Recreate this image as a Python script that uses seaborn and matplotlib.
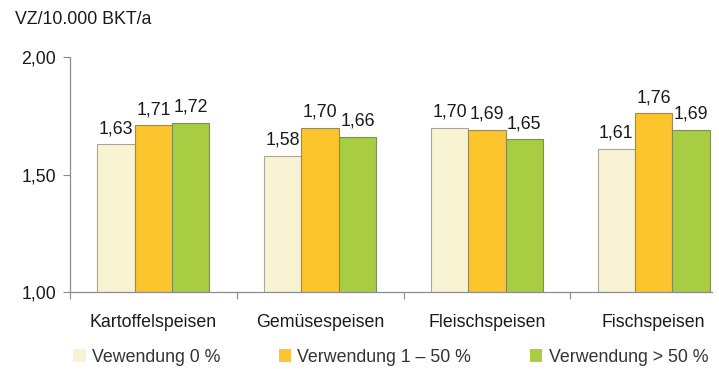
import matplotlib
matplotlib.use("Agg")
import matplotlib.pyplot as plt
import seaborn as sns
import pandas as pd
from matplotlib.patches import Patch
from matplotlib.ticker import FixedLocator

categories = ["Kartoffelspeisen", "Gemüsespeisen", "Fleischspeisen", "Fischspeisen"]
series = ["Vewendung 0 %", "Verwendung 1 – 50 %", "Verwendung > 50 %"]
values_0 = [1.63, 1.58, 1.70, 1.61]
values_1_50 = [1.71, 1.70, 1.69, 1.76]
values_gt50 = [1.72, 1.66, 1.65, 1.69]
colors = ["#F8F4D3", "#FCC52D", "#A8CC42"]
edge_colors = ["#A9A699", "#9A8A55", "#7E8E55"]
y_ticks = [1.00, 1.50, 2.00]
y_label = "VZ/10.000 BKT/a"

rows = []
for name, vals in zip(series, [values_0, values_1_50, values_gt50]):
    for cat, v in zip(categories, vals):
        rows.append({"Kategorie": cat, "Gruppe": name, "Wert": v})
df = pd.DataFrame(rows)

sns.set_theme(style="white")
plt.rcParams["font.family"] = ["Liberation Sans", "DejaVu Sans"]
text_color = "#1a1a1a"
fs = 12.8

fig = plt.figure(figsize=(7.19, 3.69), dpi=100)
ax = fig.add_axes([70 / 719, 1 - 292 / 369, (712 - 70) / 719, (292 - 57) / 369])

sns.barplot(data=df, x="Kategorie", y="Wert", hue="Gruppe", order=categories,
            hue_order=series, palette=colors, saturation=1, width=0.672,
            linewidth=0.8, ax=ax, legend=False)

for cont, ec in zip(ax.containers, edge_colors):
    for bar in cont:
        bar.set_edgecolor(ec)
    ax.bar_label(cont, fmt=lambda v: f"{v:.2f}".replace(".", ","), padding=5,
                 fontsize=fs, color=text_color)

ax.set_ylim(1.0, 2.0)
ax.set_xlim(-0.5, 3.35)
ax.set_yticks(y_ticks)
ax.set_yticklabels([f"{t:.2f}".replace(".", ",") for t in y_ticks])
ax.set_xlabel("")
ax.set_ylabel("")

for s in ["top", "right"]:
    ax.spines[s].set_visible(False)
for s in ["left", "bottom"]:
    ax.spines[s].set_color("#8c8c8c")
    ax.spines[s].set_linewidth(0.9)

ax.tick_params(axis="y", which="major", length=5, width=0.8, color="#8c8c8c",
               direction="out", pad=5, labelsize=fs, labelcolor=text_color, left=True)
ax.tick_params(axis="x", which="major", length=0, pad=15.5, labelsize=fs,
               labelcolor=text_color)
ax.xaxis.set_minor_locator(FixedLocator([-0.5, 0.5, 1.5, 2.5]))
ax.tick_params(axis="x", which="minor", length=5, width=0.8, color="#8c8c8c",
               direction="out", bottom=True)

fig.text(15 / 719, 1 - 19 / 369, y_label, fontsize=fs, color=text_color,
         ha="left", va="center")

handles = [Patch(facecolor=c, edgecolor="none") for c in colors]
fig.legend(handles, series, loc="center left", bbox_to_anchor=(66 / 719, 1 - 357 / 369),
           ncol=3, frameon=False, fontsize=fs, handlelength=0.7, handleheight=0.7,
           handletextpad=0.35, columnspacing=3.3, borderaxespad=0, labelcolor="#333333")

fig.savefig("out.png", dpi=100)
